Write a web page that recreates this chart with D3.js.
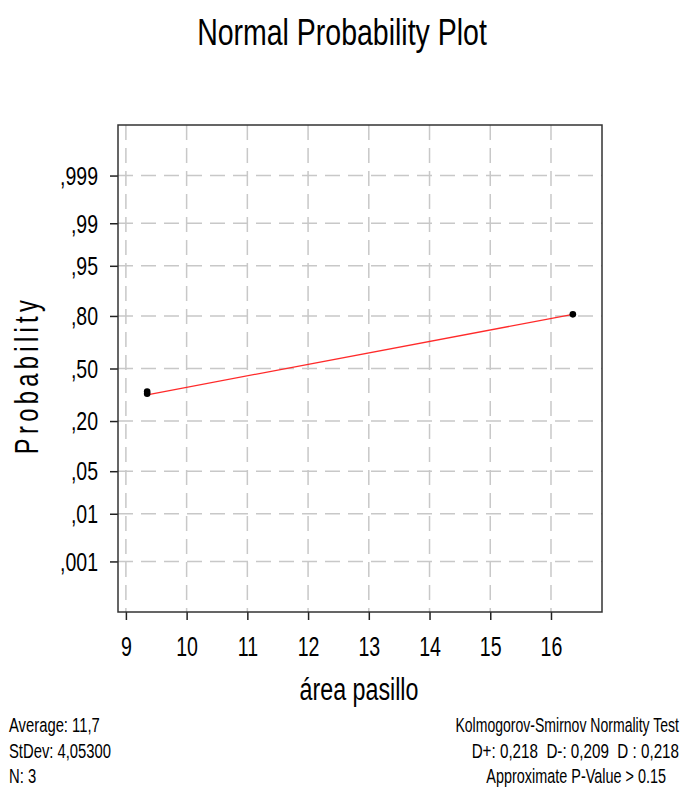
<!DOCTYPE html>
<html>
<head>
<meta charset="utf-8">
<script src="https://cdn.jsdelivr.net/npm/d3@7"></script>
<style>
  body { margin: 0; background: #fff; }
  text { font-family: "Liberation Sans", Arial, sans-serif; fill: #000; white-space: pre; }
</style>
</head>
<body>
<div id="chart"></div>
<script>
/** data */
var areaValues = [9.35, 9.35, 16.36];
var plotProbs = [0.356, 0.343, 0.807];
var fitX = [9.35, 16.36];
var fitP = [0.337, 0.807];
var probTicks = [0.999, 0.99, 0.95, 0.80, 0.50, 0.20, 0.05, 0.01, 0.001];
var probLabels = [",999", ",99", ",95", ",80", ",50", ",20", ",05", ",01", ",001"];
var xTicks = [9, 10, 11, 12, 13, 14, 15, 16];
var statsLeft = ["Average: 11,7", "StDev: 4,05300", "N: 3"];
var statsRight = ["Kolmogorov-Smirnov Normality Test", "D+: 0,218  D-: 0,209  D : 0,218", "Approximate P-Value > 0.15"];

/** size of the page and of the plot box */
var width = 688, height = 789;
var margin = {top: 125, right: 86, bottom: 177, left: 118};
var w = width - margin.left - margin.right,
    h = height - margin.top - margin.bottom;

/** inverse normal cdf (Acklam) so the y axis is a probability scale */
function qnorm(p) {
  var a = [-3.969683028665376e+01, 2.209460984245205e+02, -2.759285104469687e+02, 1.383577518672690e+02, -3.066479806614716e+01, 2.506628277459239e+00];
  var b = [-5.447609879822406e+01, 1.615858368580409e+02, -1.556989798598866e+02, 6.680131188771972e+01, -1.328068155288572e+01];
  var c = [-7.784894002430293e-03, -3.223964580411365e-01, -2.400758277161838e+00, -2.549732539343734e+00, 4.374664141464968e+00, 2.938163982698783e+00];
  var d = [7.784695709041462e-03, 3.224671290700398e-01, 2.445134137142996e+00, 3.754408661907416e+00];
  var pl = 0.02425, q, r;
  if (p < pl) {
    q = Math.sqrt(-2 * Math.log(p));
    return (((((c[0]*q+c[1])*q+c[2])*q+c[3])*q+c[4])*q+c[5]) / ((((d[0]*q+d[1])*q+d[2])*q+d[3])*q+1);
  }
  if (p > 1 - pl) {
    q = Math.sqrt(-2 * Math.log(1 - p));
    return -(((((c[0]*q+c[1])*q+c[2])*q+c[3])*q+c[4])*q+c[5]) / ((((d[0]*q+d[1])*q+d[2])*q+d[3])*q+1);
  }
  q = p - 0.5; r = q * q;
  return (((((a[0]*r+a[1])*r+a[2])*r+a[3])*r+a[4])*r+a[5])*q / (((((b[0]*r+b[1])*r+b[2])*r+b[3])*r+b[4])*r+1);
}

var svg = d3.select("#chart")
  .append("svg")
    .attr("width", width)
    .attr("height", height);

var g = svg.append("g")
  .attr("transform", "translate(" + margin.left + "," + margin.top + ")");

/** scales */
var x = d3.scaleLinear().domain([8.87, 16.84]).range([0, w]);
var z = d3.scaleLinear().domain([-3.9, 3.9]).range([h, 0]);
function y(p) { return z(qnorm(p)); }

/** dashed grid */
g.append("g")
  .attr("class", "grid")
  .selectAll("line.v")
  .data(xTicks)
  .enter().append("line")
    .attr("x1", function(d) { return x(d); })
    .attr("x2", function(d) { return x(d); })
    .attr("y1", 0)
    .attr("y2", h);
g.select(".grid")
  .selectAll("line.h")
  .data(probTicks)
  .enter().append("line")
    .attr("x1", 0)
    .attr("x2", w)
    .attr("y1", function(d) { return y(d); })
    .attr("y2", function(d) { return y(d); });
g.selectAll(".grid line")
  .attr("stroke", "#c8c8c8")
  .attr("stroke-width", 1.5)
  .attr("stroke-dasharray", "15,8");

/** axes: only the outside ticks and labels, the box is drawn separately */
var sxTick = 0.78;
var yAxis = g.append("g")
  .call(d3.axisLeft(z)
    .tickValues(probTicks.map(qnorm))
    .tickFormat(function(d, i) { return probLabels[i]; })
    .tickSize(8)
    .tickPadding(12));
yAxis.select(".domain").remove();
yAxis.selectAll("line").attr("stroke", "#222").attr("stroke-width", 1.5);
yAxis.selectAll("text")
  .attr("font-size", 25)
  .attr("font-family", "Liberation Sans, Arial, sans-serif")
  .attr("x", -20 / sxTick)
  .attr("dy", "0.35em")
  .attr("transform", "scale(" + sxTick + ",1)");

var xAxis = g.append("g")
  .attr("transform", "translate(0," + h + ")")
  .call(d3.axisBottom(x)
    .tickValues(xTicks)
    .tickSize(8)
    .tickPadding(10));
xAxis.select(".domain").remove();
xAxis.selectAll("line").attr("stroke", "#222").attr("stroke-width", 1.5);
xAxis.selectAll("text")
  .attr("font-size", 28)
  .attr("font-family", "Liberation Sans, Arial, sans-serif")
  .attr("y", 0)
  .attr("dy", 0)
  .attr("transform", "translate(0,44) scale(0.7,1)");

/** plot box */
g.append("rect")
  .attr("width", w)
  .attr("height", h)
  .attr("fill", "none")
  .attr("stroke", "#333")
  .attr("stroke-width", 1.5);

/** fitted line */
g.append("line")
  .attr("x1", x(fitX[0]))
  .attr("y1", y(fitP[0]))
  .attr("x2", x(fitX[1]))
  .attr("y2", y(fitP[1]))
  .attr("stroke", "#ff2a2a")
  .attr("stroke-width", 1.3);

/** points */
g.selectAll("circle")
  .data(areaValues)
  .enter().append("circle")
    .attr("cx", function(d) { return x(d); })
    .attr("cy", function(d, i) { return y(plotProbs[i]); })
    .attr("r", 3.3)
    .attr("fill", "#000");

/** condensed text helper */
function label(str, px, py, size, sx, anchor) {
  svg.append("g")
    .attr("transform", "translate(" + px + "," + py + ") scale(" + sx + ",1)")
    .append("text")
      .attr("font-size", size)
      .attr("text-anchor", anchor)
      .text(str);
}

/** titles */
label("Normal Probability Plot", 342, 45, 37, 0.77, "middle");
label("área pasillo", 359, 700, 31, 0.75, "middle");

svg.append("g")
  .attr("transform", "translate(38,375) rotate(-90) scale(0.72,1)")
  .append("text")
    .attr("font-size", 33)
    .attr("text-anchor", "middle")
    .attr("letter-spacing", 6)
    .text("Probability");

/** stats at the bottom */
statsLeft.forEach(function(s, i) {
  label(s, 9, 732 + i * 25.5, 19.5, 0.76, "start");
});
var rightEnd = [679, 679, 666];
var rightSx = [0.72, 0.78, 0.74];
statsRight.forEach(function(s, i) {
  label(s, rightEnd[i], 732 + i * 25.5, 19.5, rightSx[i], "end");
});
</script>
</body>
</html>
